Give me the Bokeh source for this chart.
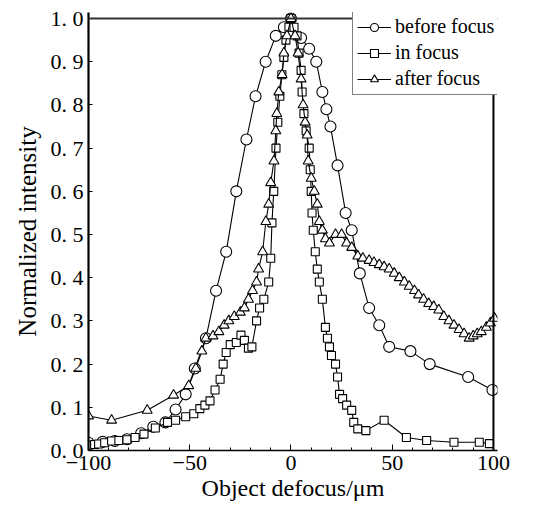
from bokeh.plotting import figure
from bokeh.models import (Range1d, FixedTicker, Span, Legend, LegendItem)
from bokeh.embed import file_html
from bokeh.resources import INLINE

# ---- data ----
before_x = [-100, -93, -87, -81, -74, -68, -62, -57, -52, -47.5, -42, -37, -32, -27,
            -22, -17.5, -12.5, -7.5, -3.5, 0, 5, 9, 12.5, 15.5, 17.5, 19.5, 23, 27, 30,
            34, 38.6, 43.6, 48.5, 59, 68.5, 87.5, 99.5]
before_y = [0.018, 0.02, 0.022, 0.026, 0.04, 0.055, 0.065, 0.095, 0.13, 0.19, 0.26, 0.37,
            0.46, 0.60, 0.72, 0.82, 0.90, 0.96, 0.98, 1.0, 0.955, 0.93, 0.90, 0.83, 0.79,
            0.75, 0.66, 0.55, 0.51, 0.41, 0.33, 0.29, 0.24, 0.23, 0.20, 0.17, 0.14]

infocus_x = [-100, -97, -95, -92, -88.6, -85, -81, -77, -72.6, -67, -61, -57, -52, -48,
             -45, -42.5, -40, -37.5, -35, -33.5, -32, -30, -27, -24.7, -23, -21, -19.3,
             -17, -15.5, -13.4, -11, -10, -9.4, -8.5, -7.4, -6.5, -5.5, -4.5, -3.5, -2.5,
             -1, 0, 1.5, 3, 4, 5, 5.5, 6.4, 7.5, 9, 9.5, 10, 10.4, 11, 12, 13, 14, 15.5,
             17, 18, 19, 20, 22, 23, 24, 25.5, 27.5, 30, 31, 33, 37, 46, 57, 67, 80.5, 93, 98]
infocus_y = [0.012, 0.014, 0.015, 0.018, 0.022, 0.023, 0.025, 0.03, 0.038, 0.052, 0.065,
             0.07, 0.078, 0.085, 0.097, 0.105, 0.115, 0.14, 0.165, 0.2, 0.227, 0.245, 0.25,
             0.267, 0.255, 0.237, 0.24, 0.30, 0.33, 0.35, 0.39, 0.445, 0.527, 0.60, 0.70,
             0.76, 0.82, 0.87, 0.91, 0.95, 0.98, 1.0, 0.98, 0.96, 0.92, 0.88, 0.83, 0.78,
             0.74, 0.70, 0.65, 0.60, 0.55, 0.51, 0.46, 0.42, 0.39, 0.35, 0.285, 0.26, 0.24,
             0.22, 0.20, 0.17, 0.13, 0.12, 0.105, 0.093, 0.065, 0.05, 0.046, 0.07, 0.03,
             0.023, 0.019, 0.019, 0.016]

after_x = [-100, -88.6, -71, -58, -50.5, -47, -44, -42, -38.5, -35.6, -33, -30.7, -28,
           -25, -23, -21, -19, -17, -16, -14, -12.4, -11, -10, -8.4, -7.5, -7, -6, -4.4,
           -3.5, -2, 0, 2, 3.5, 5, 6, 7, 8, 8.5, 10, 11.5, 13, 14, 15.5, 17, 19, 22, 25,
           27.5, 30, 33, 35.5, 38.6, 41, 43.6, 46, 48.5, 51, 53.5, 56, 58.4, 61, 63, 65.5,
           68, 70.5, 73, 75.5, 78, 80.5, 83, 85.5, 88, 90, 92, 94, 96.5, 98.5, 100.5]
after_y = [0.08, 0.07, 0.093, 0.128, 0.15, 0.19, 0.23, 0.26, 0.265, 0.275, 0.29, 0.30,
           0.31, 0.32, 0.33, 0.35, 0.37, 0.39, 0.42, 0.46, 0.53, 0.57, 0.62, 0.67, 0.74,
           0.78, 0.83, 0.87, 0.92, 0.96, 1.0, 0.96, 0.92, 0.86, 0.80, 0.76, 0.73, 0.67,
           0.63, 0.60, 0.57, 0.53, 0.51, 0.49, 0.48, 0.50, 0.50, 0.48, 0.47, 0.45, 0.445,
           0.44, 0.435, 0.43, 0.425, 0.42, 0.41, 0.40, 0.39, 0.38, 0.37, 0.36, 0.35, 0.34,
           0.333, 0.325, 0.31, 0.30, 0.29, 0.28, 0.27, 0.26, 0.265, 0.27, 0.275, 0.285,
           0.295, 0.306]

series_labels = ["before focus", "in focus", "after focus"]

x_ticks = [-100, -50, 0, 50, 100]
x_tick_labels = ["\u2212100", "\u221250", "0", "50", "100"]
x_minor_ticks = [-90, -80, -70, -60, -40, -30, -20, -10, 10, 20, 30, 40, 60, 70, 80, 90]
y_ticks = [0.0, 0.1, 0.2, 0.3, 0.4, 0.5, 0.6, 0.7, 0.8, 0.9, 1.0]
y_tick_labels = ["0. 0", "0. 1", "0. 2", "0. 3", "0. 4", "0. 5", "0. 6", "0. 7",
                 "0. 8", "0. 9", "1. 0"]

SERIF = "Liberation Serif"

p = figure(width=525, height=510, output_backend="svg", toolbar_location=None,
           x_range=Range1d(-100, 102), y_range=Range1d(0, 1.014),
           min_border_left=88, min_border_right=28, min_border_top=12, min_border_bottom=60)
p.outline_line_color = None
p.grid.grid_line_color = None
p.background_fill_color = "white"

# frame lines at top (y=1.0) and right (x=100)
p.add_layout(Span(location=1.0, dimension="width", line_color="#333", line_width=2))
p.add_layout(Span(location=100, dimension="height", line_color="black", line_width=2))

common = dict(line_color="black", line_width=1.1)
l1 = p.line(before_x, before_y, **common)
s1 = p.scatter(before_x, before_y, marker="circle", size=11, fill_color="white", **common)
l2 = p.line(infocus_x, infocus_y, **common)
s2 = p.scatter(infocus_x, infocus_y, marker="square", size=8, fill_color="white", **common)
l3 = p.line(after_x, after_y, **common)
s3 = p.scatter(after_x, after_y, marker="triangle", size=10, fill_color="white", **common)

legend = Legend(items=[LegendItem(label=series_labels[0], renderers=[l1, s1]),
                       LegendItem(label=series_labels[1], renderers=[l2, s2]),
                       LegendItem(label=series_labels[2], renderers=[l3, s3])],
                location=(264, 355))
legend.label_text_font = SERIF
legend.label_text_font_size = "20px"
legend.label_text_color = "black"
legend.border_line_color = "black"
legend.border_line_width = 1.2
legend.background_fill_alpha = 1.0
legend.glyph_width = 34
legend.glyph_height = 20
legend.label_height = 20
legend.label_standoff = 4
legend.spacing = 3
legend.padding = 4
legend.margin = 0
p.add_layout(legend)

# axes
xa = p.xaxis[0]
xa.ticker = FixedTicker(ticks=x_ticks, minor_ticks=x_minor_ticks)
xa.major_label_overrides = dict(zip(x_ticks, x_tick_labels))
xa.axis_label = "Object defocus/\u03bcm"
xa.major_tick_in = 6
xa.major_tick_out = 0
xa.minor_tick_in = 3
xa.minor_tick_out = 0
xa.axis_line_width = 1.5
xa.major_label_standoff = 5

ya = p.yaxis[0]
ya.ticker = FixedTicker(ticks=y_ticks)
ya.major_label_overrides = dict(zip(y_ticks, y_tick_labels))
ya.axis_label = "Normalized intensity"
ya.major_tick_in = 4
ya.major_tick_out = 0
ya.minor_tick_line_color = None
ya.axis_line_width = 2.2
ya.major_label_standoff = 5

for ax in (xa, ya):
    ax.axis_line_color = "black"
    ax.major_tick_line_color = "black"
    ax.major_label_text_font = SERIF
    ax.major_label_text_font_size = "22px"
    ax.major_label_text_color = "black"
    ax.axis_label_text_font = SERIF
    ax.axis_label_text_font_style = "normal"
    ax.axis_label_text_color = "black"
    ax.axis_label_standoff = 2
xa.axis_label_text_font_size = "24px"
ya.axis_label_text_font_size = "25px"
xa.minor_tick_line_color = "black"
ya.axis_label_standoff = 7

open("out.html", "w").write(file_html(p, INLINE))
